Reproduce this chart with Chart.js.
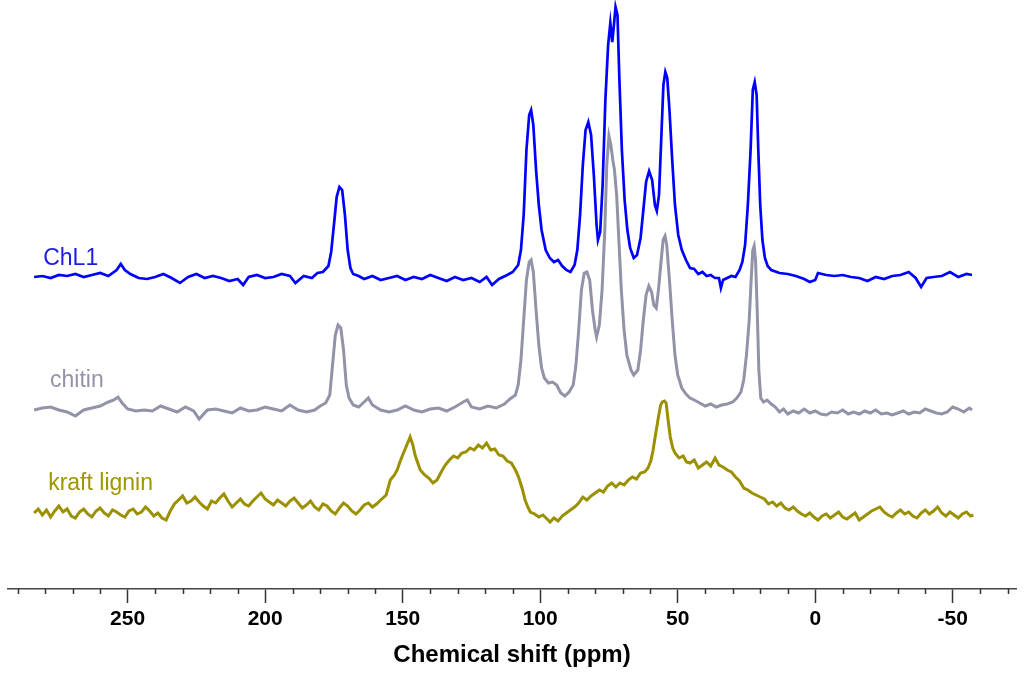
<!DOCTYPE html>
<html>
<head>
<meta charset="utf-8">
<title>Chemical shift spectra</title>
<script src="https://cdn.jsdelivr.net/npm/chart.js@4/dist/chart.umd.min.js"></script>
<style>
  html, body { margin: 0; padding: 0; background: #fff; }
  #spectra { display: block; }
</style>
</head>
<body>
<canvas id="spectra" width="1024" height="673"></canvas>
<script>
// values: chemical shift (ppm) and intensity (a.u., stacked)
const chl1Ppm = [284, 281, 278, 275, 272, 269, 266, 263, 260, 257, 254, 252.5, 251, 249, 246, 243, 240, 237, 234, 231, 228, 225, 222, 219, 216, 213, 210, 208, 206, 203, 200, 197, 194, 191, 189, 186, 183, 181, 179, 177, 176, 175, 174, 173, 172, 171, 170, 169, 168, 166, 164, 161, 158, 155, 152, 149, 146, 143, 140, 137, 134, 131, 128, 125, 122, 119.5, 117.5, 115, 112, 110, 108, 107, 106, 105, 104, 103.3, 102.5, 101.5, 100.5, 99.5, 98, 96.5, 95, 93.5, 92, 90.5, 89, 87.5, 86.5, 85.5, 84.5, 83.5, 82.5, 81.5, 80.5, 79.5, 79, 78.2, 77.3, 76.3, 75.3, 74.5, 73.8, 73.2, 72.6, 71.9, 71.2, 70.3, 69.3, 68.3, 67.3, 66, 64.8, 63.5, 62.5, 61.5, 60.4, 59.3, 58.3, 57.6, 56.8, 56, 55.2, 54.5, 53.8, 53, 52, 51, 49.8, 48.5, 47, 45.5, 44, 42.5, 41, 39.5, 38, 36.5, 35, 34.3, 33.5, 32, 30.5, 29, 27.5, 26.5, 25.5, 24.5, 23.5, 22.7, 22, 21.3, 20.7, 20, 19.2, 18.3, 17.3, 16, 13, 10, 7, 4, 2, 0, -1, -4, -7, -10, -13, -16, -19, -22, -25, -28, -31, -34, -36.5, -38.5, -40.5, -43, -46, -49, -52, -55, -57];
const chl1Int = [312, 313, 311, 314, 313, 315, 312, 314, 316, 313, 319, 325, 319, 315, 311, 310, 312, 315, 311, 306, 312, 315, 311, 313, 311, 308, 310, 304, 312, 314, 311, 312, 315, 313, 306, 313, 311, 316, 317, 323, 337, 364, 392, 402, 399, 374, 339, 321, 315, 313, 310, 313, 309, 311, 313, 309, 312, 310, 314, 311, 308, 312, 309, 311, 307, 312, 304, 310, 314, 317, 324, 339, 374, 439, 474, 479, 464, 419, 384, 359, 339, 331, 327, 329, 323, 319, 317, 324, 339, 374, 424, 459, 467, 454, 414, 364, 349, 357, 404, 489, 544, 566, 547, 564, 582, 574, 509, 439, 389, 359, 341, 331, 334, 351, 379, 407, 418, 409, 384, 378, 394, 449, 504, 517, 511, 479, 429, 384, 354, 339, 329, 321, 320, 315, 317, 313, 314, 311, 311, 301, 309, 311, 313, 312, 319, 327, 344, 384, 439, 499, 507, 494, 439, 384, 349, 331, 323, 319, 316, 315, 313, 310, 307, 309, 316, 314, 313, 314, 312, 311, 308, 312, 310, 313, 314, 317, 311, 302, 311, 312, 313, 317, 312, 315, 314];

const chitinPpm = [284, 281, 278, 275, 272, 269, 266, 263, 260, 257, 255, 253.5, 252, 250, 247, 244, 241, 238, 235, 232, 229, 226, 224, 221, 218, 215, 212, 209, 206, 203, 200, 197, 194, 191, 188, 185, 182, 180, 178, 176.5, 175.5, 174.5, 173.5, 172.5, 171.5, 170.5, 169.5, 168, 166, 164, 162.5, 161, 158, 155, 152, 149, 146, 143, 140, 137, 134, 131, 128, 126.5, 125, 122, 119, 116, 113, 111, 109, 108, 107, 106, 105, 104, 103.3, 102.5, 101.5, 100.5, 99.5, 98.5, 97, 95.5, 94, 92.5, 91, 89.5, 88, 87, 86, 85, 84, 83, 82, 81, 80, 79.5, 78.5, 77.5, 76.5, 75.8, 75, 74.3, 73.6, 73, 72.2, 71.4, 70.5, 69.5, 68.5, 67, 66, 64.5, 63.5, 62.5, 61.5, 60.5, 59.5, 58.7, 57.8, 57, 56, 55.3, 54.6, 54, 53, 52, 51, 50, 48.5, 47, 45.5, 44, 42, 40, 38, 36, 34, 32, 30, 28.5, 27, 26, 25, 24, 23.3, 22.7, 22.2, 21.7, 21.1, 20.5, 19.8, 18.8, 17.5, 16, 14.5, 13, 11.5, 10, 8, 6, 4, 2, 0, -2, -4, -6, -8, -10, -12, -14, -16, -18, -20, -22, -24, -26, -28, -30, -32, -34, -36, -38, -40, -42, -44, -46, -48, -50, -52, -54, -56, -57];
const chitinInt = [179, 181, 182, 179, 177, 173, 179, 181, 183, 187, 189, 192, 186, 180, 178, 179, 178, 183, 180, 177, 182, 178, 170, 179, 180, 178, 176, 181, 178, 179, 182, 180, 178, 184, 179, 177, 179, 183, 186, 194, 224, 254, 264, 261, 239, 204, 191, 184, 182, 187, 191, 184, 179, 177, 179, 183, 179, 177, 180, 181, 178, 182, 187, 189, 182, 180, 183, 181, 185, 190, 194, 204, 229, 269, 309, 327, 329, 317, 279, 244, 221, 211, 206, 207, 204, 196, 193, 197, 204, 224, 259, 299, 316, 317, 309, 279, 259, 252, 264, 299, 359, 424, 453, 444, 429, 419, 394, 349, 299, 259, 234, 219, 214, 219, 239, 269, 294, 303, 297, 284, 281, 299, 329, 349, 353, 344, 309, 269, 234, 214, 201, 195, 191, 189, 186, 183, 185, 182, 184, 185, 187, 191, 197, 209, 234, 269, 309, 339, 343, 329, 279, 219, 191, 187, 189, 185, 182, 177, 180, 175, 178, 176, 180, 176, 178, 175, 174, 177, 176, 179, 175, 177, 175, 178, 176, 179, 175, 176, 174, 176, 178, 175, 177, 176, 180, 178, 176, 175, 177, 182, 180, 177, 181, 179];

const ligninPpm = [284, 282.5, 281, 279.5, 278, 276.5, 275, 273.5, 272, 270.5, 269, 267.5, 266, 264.5, 263, 261.5, 260, 258.5, 257, 255.5, 254, 252.5, 251, 249.5, 248, 246.5, 245, 243.5, 242, 240.5, 239, 237.5, 236, 234.5, 233, 231.5, 230, 228.5, 227, 225.5, 224, 222.5, 221, 219.5, 218, 216.5, 215, 213.5, 212, 210.5, 209, 207.5, 206, 204.5, 203, 201.5, 200, 198.5, 197, 195.5, 194, 192.5, 191, 189.5, 188, 186.5, 185, 183.5, 182, 180.5, 179, 177.5, 176, 174.5, 173, 171.5, 170, 168.5, 167, 165.5, 164, 162.5, 161, 159.5, 158, 156, 154.5, 153, 152, 151, 150, 148.5, 147.3, 146.3, 145.5, 144.5, 143.6, 142, 140.5, 139, 137.5, 136, 134.5, 133, 131.5, 130, 128.5, 127, 125.5, 124, 122.5, 121, 119.5, 118, 116.5, 115, 113.5, 112, 110.5, 109, 108, 107.3, 106.4, 105.5, 104.5, 103.6, 102, 100.5, 99, 97.5, 96.4, 95, 93.5, 92, 90.5, 89, 87.5, 86, 84.5, 83, 81.5, 80, 78.5, 77, 75.5, 74, 72.5, 71, 69.5, 68, 66.5, 65, 63.5, 62, 60.8, 59.8, 59, 58.2, 57, 56.2, 55.6, 54.8, 54.2, 53.5, 52.7, 51.8, 51, 49.5, 48, 46.8, 45.5, 44, 42.5, 41, 39.5, 38, 36.4, 35, 33.5, 32, 30.5, 29, 27.5, 26, 24.5, 23, 21.5, 20, 18.5, 17, 15.5, 14, 12.5, 11, 9.5, 8, 6.5, 5, 3.5, 2, 0.5, -1, -2.5, -4, -5.5, -7, -8.5, -10, -11.5, -13, -14.5, -16, -17.5, -19, -20.5, -22, -23.5, -25, -26.5, -28, -29.5, -31, -32.5, -34, -35.5, -37, -38.5, -40, -41.5, -43, -44.5, -46, -47.5, -49, -50.5, -52, -53.5, -55, -56.5, -57.5];
const ligninInt = [76, 80, 74, 79, 72, 78, 83, 77, 80, 73, 71, 77, 80, 75, 72, 78, 81, 76, 73, 79, 77, 74, 72, 78, 80, 75, 77, 82, 78, 73, 76, 71, 69, 78, 85, 89, 93, 86, 88, 92, 87, 83, 80, 88, 86, 91, 95, 88, 82, 86, 90, 85, 83, 88, 92, 96, 90, 87, 84, 89, 86, 83, 88, 91, 86, 81, 84, 88, 82, 79, 85, 83, 78, 75, 81, 86, 83, 78, 75, 79, 84, 86, 82, 85, 89, 94, 109, 114, 119, 127, 134, 144, 152, 144, 134, 126, 119, 114, 111, 106, 109, 117, 124, 129, 133, 131, 136, 137, 141, 139, 144, 141, 146, 139, 140, 134, 133, 128, 126, 119, 113, 107, 99, 89, 82, 77, 75, 72, 74, 70, 67, 71, 68, 73, 76, 79, 82, 86, 92, 89, 93, 96, 99, 97, 103, 106, 102, 106, 104, 109, 112, 110, 116, 117, 121, 128, 138, 152, 172, 184, 187, 188, 186, 169, 152, 141, 136, 131, 133, 127, 126, 129, 121, 124, 127, 123, 131, 124, 122, 119, 117, 112, 108, 101, 99, 96, 94, 92, 90, 85, 87, 83, 86, 81, 79, 82, 78, 75, 73, 76, 72, 69, 73, 75, 71, 74, 77, 72, 70, 73, 76, 69, 72, 75, 78, 80, 82, 77, 74, 72, 76, 79, 75, 77, 73, 71, 76, 79, 75, 78, 82, 76, 73, 77, 74, 71, 75, 77, 73, 74];

const seriesNames = ['ChL1', 'chitin', 'kraft lignin'];
const seriesColors = ['#0000ff', '#9292a8', '#9a9000'];
const labelColors = ['#1c1ce6', '#9393aa', '#a09600'];
const seriesWidths = [2.7, 3, 3];

// where the series names sit, in axis units
const labelAt = [
  { ppm: 280.7, y: 324 },
  { ppm: 278.2, y: 202 },
  { ppm: 278.9, y: 99 }
];

function pairs(xs, ys) {
  return xs.map((x, i) => ({ x: x, y: ys[i] }));
}

const minorTicks = {
  id: 'minorTicks',
  afterDraw(chart) {
    const ctx = chart.ctx;
    const xs = chart.scales.x;
    ctx.save();
    ctx.strokeStyle = '#333';
    ctx.lineWidth = 1.5;
    for (let v = -70; v <= 290; v += 10) {
      if (v % 50 === 0) continue;
      const px = Math.round(xs.getPixelForValue(v)) + 0.5;
      ctx.beginPath();
      ctx.moveTo(px, xs.top);
      ctx.lineTo(px, xs.top + 5);
      ctx.stroke();
    }
    // series names
    ctx.font = '23px "Liberation Sans", Arial, sans-serif';
    ctx.textBaseline = 'alphabetic';
    labelAt.forEach((p, i) => {
      ctx.fillStyle = labelColors[i];
      ctx.fillText(seriesNames[i], xs.getPixelForValue(p.ppm), chart.scales.y.getPixelForValue(p.y));
    });
    ctx.restore();
  }
};

const lineStyle = (i) => ({
  label: seriesNames[i],
  borderColor: seriesColors[i],
  backgroundColor: seriesColors[i],
  borderWidth: seriesWidths[i],
  pointRadius: 0,
  tension: 0,
  fill: false
});

new Chart(document.getElementById('spectra'), {
  type: 'line',
  data: {
    datasets: [
      Object.assign(lineStyle(0), { data: pairs(chl1Ppm, chl1Int) }),
      Object.assign(lineStyle(1), { data: pairs(chitinPpm, chitinInt) }),
      Object.assign(lineStyle(2), { data: pairs(ligninPpm, ligninInt) })
    ]
  },
  options: {
    responsive: false,
    animation: false,
    devicePixelRatio: 1,
    layout: { padding: { left: 8, right: 8, top: 0, bottom: 0 } },
    plugins: {
      legend: { display: false },
      tooltip: { enabled: false }
    },
    scales: {
      x: {
        type: 'linear',
        reverse: true,
        min: -73,
        max: 293.5,
        afterFit(scale) { scale.height = 84; },
        grid: {
          drawOnChartArea: false,
          drawTicks: true,
          tickLength: 14,
          tickWidth: 1.5,
          tickColor: '#333'
        },
        border: { display: true, color: '#444', width: 1.5 },
        ticks: {
          stepSize: 50,
          includeBounds: false,
          maxRotation: 0,
          padding: 4,
          color: '#000',
          font: { family: '"Liberation Sans", Arial, sans-serif', size: 21, weight: 'bold' }
        },
        title: {
          display: true,
          text: 'Chemical shift (ppm)',
          color: '#000',
          padding: { top: 4, bottom: 3 },
          font: { family: '"Liberation Sans", Arial, sans-serif', size: 24, weight: 'bold' }
        }
      },
      y: {
        display: false,
        min: 0,
        max: 589
      }
    }
  },
  plugins: [minorTicks]
});
</script>
</body>
</html>
